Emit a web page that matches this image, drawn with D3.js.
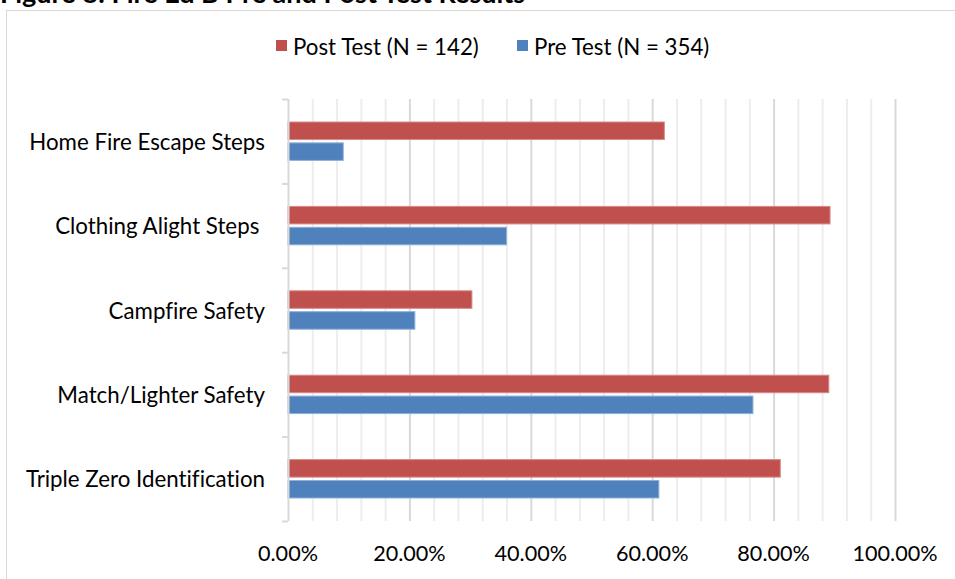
<!DOCTYPE html>
<html>
<head>
<meta charset="utf-8">
<script src="https://cdn.jsdelivr.net/npm/d3@7"></script>
<style>
  html, body { margin: 0; padding: 0; background: #fff; }
  svg { display: block; }
  text { font-family: Lato, "Open Sans", sans-serif; fill: #000; font-variant-ligatures: none; font-feature-settings: "liga" 0, "clig" 0; }
</style>
</head>
<body>
<svg id="chart" width="955" height="579"></svg>
<script>
// Fire Ed B test results, share of correct answers per topic
const categories = [
  "Home Fire Escape Steps",
  "Clothing Alight Steps ",
  "Campfire Safety",
  "Match/Lighter Safety",
  "Triple Zero Identification"
];
const seriesNames = ["Post Test (N = 142)", "Pre Test (N = 354)"];
const postTest = [0.620, 0.893, 0.303, 0.891, 0.811];
const preTest  = [0.091, 0.360, 0.209, 0.766, 0.611];
const xTicks = [0, 0.2, 0.4, 0.6, 0.8, 1.0];
const colors = ["#c0504d", "#4f81bd"];
const strokes = ["#d98a88", "#8fb0da"];

const svg = d3.select("#chart");

// Figure caption (sits above the chart frame)
svg.append("text")
  .attr("x", 0).attr("y", 3)
  .attr("font-size", 27).attr("font-weight", "bold")
  .text("Figure 8: Fire Ed B Pre and Post Test Results");

// Chart frame
svg.append("rect")
  .attr("x", 6.5).attr("y", 10.5)
  .attr("width", 960).attr("height", 600)
  .attr("fill", "#fff").attr("stroke", "#d9d9d9");

const plot = { left: 288, right: 895, top: 99, bottom: 521 };

const x = d3.scaleLinear().domain([0, 1]).range([plot.left, plot.right]);
const y = d3.scaleBand().domain(categories).range([plot.top, plot.bottom]).paddingInner(0.545).paddingOuter(0.2725);
const ySub = d3.scaleBand().domain(seriesNames).range([0, y.bandwidth()]).paddingInner(0.16);

// Minor gridlines every 4%
const minor = d3.range(0, 1.0001, 0.04).filter(v => Math.abs(v * 5 - Math.round(v * 5)) > 1e-6);
svg.append("g").selectAll("line").data(minor).join("line")
  .attr("x1", d => x(d) + 0.5).attr("x2", d => x(d) + 0.5)
  .attr("y1", plot.top).attr("y2", plot.bottom)
  .attr("stroke", "#ededed").attr("stroke-width", 2);

// Major gridlines every 20%
svg.append("g").selectAll("line").data(xTicks.slice(1)).join("line")
  .attr("x1", d => x(d) + 0.5).attr("x2", d => x(d) + 0.5)
  .attr("y1", plot.top).attr("y2", plot.bottom)
  .attr("stroke", "#d9d9d9").attr("stroke-width", 2);

// Bars
const rows = categories.map((c, i) => ({ c, vals: [postTest[i], preTest[i]] }));
const groups = svg.append("g").selectAll("g").data(rows).join("g")
  .attr("transform", d => `translate(0,${y(d.c)})`);
groups.selectAll("rect").data(d => d.vals.map((v, k) => ({ v, k }))).join("rect")
  .attr("x", x(0))
  .attr("y", d => ySub(seriesNames[d.k]))
  .attr("width", d => x(d.v) - x(0))
  .attr("height", ySub.bandwidth())
  .attr("fill", d => colors[d.k])
  .attr("stroke", d => strokes[d.k]).attr("stroke-width", 1);

// Category axis
const yAxisG = svg.append("g");
yAxisG.append("line")
  .attr("x1", plot.left + 0.5).attr("x2", plot.left + 0.5)
  .attr("y1", plot.top).attr("y2", plot.bottom)
  .attr("stroke", "#d9d9d9").attr("stroke-width", 2);
const step = y.step();
const boundaries = d3.range(categories.length + 1).map(i => plot.top + i * step);
yAxisG.selectAll("line.tick").data(boundaries).join("line").attr("class", "tick")
  .attr("x1", plot.left - 6).attr("x2", plot.left)
  .attr("y1", d => d + 0.5).attr("y2", d => d + 0.5)
  .attr("stroke", "#d9d9d9").attr("stroke-width", 2);
yAxisG.selectAll("text").data(categories).join("text")
  .attr("x", 265)
  .attr("y", d => y(d) + y.bandwidth() / 2)
  .attr("text-anchor", "end").attr("dominant-baseline", "central")
  .attr("font-size", 22.3)
  .style("white-space", "pre")
  .text(d => d);

// Value axis labels
svg.append("g").selectAll("text").data(xTicks).join("text")
  .attr("x", d => x(d))
  .attr("y", 553)
  .attr("text-anchor", "middle").attr("dominant-baseline", "central")
  .attr("font-size", 21.6)
  .text(d => d3.format(".2%")(d));

// Legend
const legend = svg.append("g");
const legendX = [276, 517];
seriesNames.forEach((name, i) => {
  legend.append("rect")
    .attr("x", legendX[i]).attr("y", 40)
    .attr("width", 11).attr("height", 11)
    .attr("fill", colors[i]);
  legend.append("text")
    .attr("x", legendX[i] + 17).attr("y", 46)
    .attr("dominant-baseline", "central")
    .attr("font-size", 22.3)
    .text(name);
});
</script>
</body>
</html>
